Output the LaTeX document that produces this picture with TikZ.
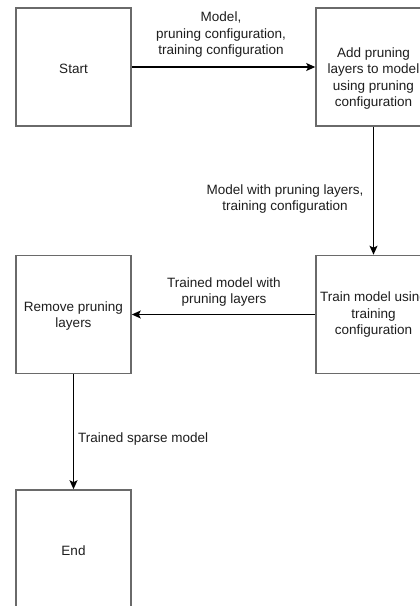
\documentclass[tikz,border=0pt]{standalone}
\usepackage{fontspec}
\setmainfont{Liberation Sans}
\usetikzlibrary{arrows.meta}
\definecolor{boxline}{HTML}{6A6A6A}
\definecolor{txt}{HTML}{1E1E1E}
\tikzset{
  stepbox/.style={draw=boxline, line width=1.6pt, minimum width=115pt, minimum height=118pt, inner sep=0pt},
  boxtext/.style={align=center, text=txt, font=\fontsize{13.5pt}{16.5pt}\selectfont, inner sep=0pt},
  lbl/.style={align=center, text=txt, font=\fontsize{13.5pt}{16.5pt}\selectfont, inner sep=0pt},
  flow/.style={draw=black, line width=1.3pt, -{Stealth[length=9pt,width=8pt,inset=2pt]}}
}
\begin{document}
\begin{tikzpicture}[x=1pt,y=-1pt]
\useasboundingbox (0,0) rectangle (420,606);
\clip (0,0) rectangle (420,606);
\fill[white] (0,0) rectangle (420,606);
% boxes
\node[stepbox] (start) at (73.5,67) {};
\node[stepbox] (add) at (373.5,67) {};
\node[stepbox] (train) at (373.5,314.5) {};
\node[stepbox] (remove) at (73.5,314.5) {};
\node[stepbox] (end) at (73.5,549) {};
% box texts
\node[boxtext] (tstart) at (73.5,69) {Start};
\node[boxtext] (tadd) at (373.5,78.5) {Add pruning\\layers to model\\using pruning\\configuration};
\node[boxtext] (ttrain) at (373.5,315) {Train model using\\training\\configuration};
\node[boxtext] (tremove) at (73.5,316) {Remove pruning\\layers};
\node[boxtext] (tend) at (73.5,551) {End};
% connectors
\draw[flow] (start.east) -- (add.west);
\draw[flow] (add.south) -- (train.north);
\draw[flow] (train.west) -- (remove.east);
\draw[flow] (remove.south) -- (end.north);
% labels
\node[lbl] (l1) at (221,35) {Model,\\pruning configuration,\\training configuration};
\node[lbl] (l2) at (285,199) {Model with pruning layers,\\training configuration};
\node[lbl] (l3) at (224,292) {Trained model with\\pruning layers};
\node[lbl, anchor=west] (l4) at (78,439) {Trained sparse model};
\end{tikzpicture}
\end{document}
